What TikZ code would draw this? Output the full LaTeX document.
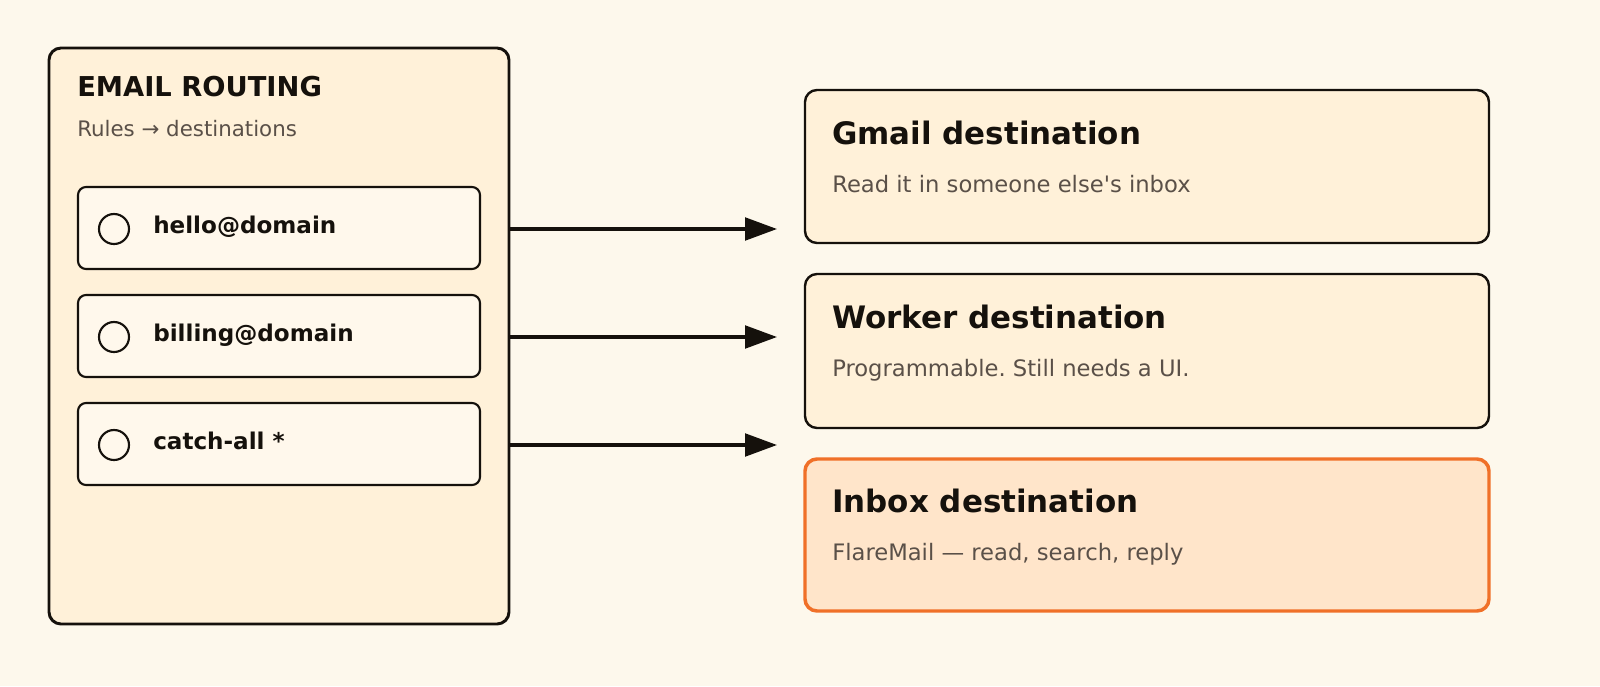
\documentclass[tikz,border=0pt]{standalone}
\usepackage{fontspec}
\setmainfont{DejaVu Sans}
\frenchspacing
\usetikzlibrary{arrows.meta}
\definecolor{bg}{HTML}{FDF8EC}
\definecolor{ink}{HTML}{15110C}
\definecolor{panel}{HTML}{FFF1D9}
\definecolor{rule}{HTML}{FFF8EC}
\definecolor{sub}{HTML}{5A5048}
\definecolor{hot}{HTML}{F07028}
\definecolor{hotfill}{HTML}{FFE5CA}
\begin{document}
\begin{tikzpicture}[x=0.75pt,y=-0.75pt,
  rulebox/.style={draw=ink,line width=1.6pt,fill=rule,rounded corners=6pt},
  dest/.style={draw=ink,line width=1.8pt,fill=panel,rounded corners=9pt},
  ttl/.style={anchor=base west,inner sep=0pt,font=\bfseries\fontsize{23.2}{27}\selectfont,text=ink},
  sbt/.style={anchor=base west,inner sep=0pt,font=\fontsize{17}{20}\selectfont,text=sub},
  rtx/.style={anchor=base west,inner sep=0pt,font=\bfseries\fontsize{17.3}{21}\selectfont,text=ink},
  arr/.style={draw=ink,line width=2.4pt,-{Triangle[length=24pt,width=17pt]}}]
\fill[bg] (0,0) rectangle (1600,686);
\useasboundingbox (0,0) rectangle (1600,686);
\draw[draw=ink,line width=2.2pt,fill=panel,rounded corners=9pt] (49,48) rectangle (509,624);
\node[anchor=base west,inner sep=0pt,font=\bfseries\fontsize{20.5}{24}\selectfont,text=ink] (title) at (77,96) {EMAIL ROUTING};
\node[anchor=base west,inner sep=0pt,font=\fontsize{16}{19}\selectfont,text=sub] (subt) at (77,136) {Rules → destinations};
\foreach \n/\y/\t in {r1/229/hello@domain,r2/337/billing@domain,r3/445/catch-all *}{
  \draw[rulebox] (78,\y-42) rectangle (480,\y+40);
  \node[draw=ink,line width=1.6pt,circle,minimum size=30pt*0.75,inner sep=0pt] (\n c) at (114,\y) {};
  \node[rtx] (\n) at (153,\y+4) {\t};
  \coordinate (\n s) at (509,\y);
  \coordinate (\n e) at (777,\y);
  \draw[arr] (\n s) -- (\n e);
}
\draw[dest] (805,90) rectangle (1489,243);
\node[ttl] (g) at (832,144) {Gmail destination};
\node[sbt] (gs) at (832,192) {Read it in someone else\textquotesingle s inbox};
\draw[dest] (805,274) rectangle (1489,428);
\node[ttl] (w) at (832,328) {Worker destination};
\node[sbt] (ws) at (832,376) {Programmable. Still needs a UI.};
\draw[dest,draw=hot,line width=2.6pt,fill=hotfill] (805,459) rectangle (1489,611);
\node[ttl] (i) at (832,512) {Inbox destination};
\node[sbt] (is) at (832,560) {FlareMail — read, search, reply};
\end{tikzpicture}
\end{document}
